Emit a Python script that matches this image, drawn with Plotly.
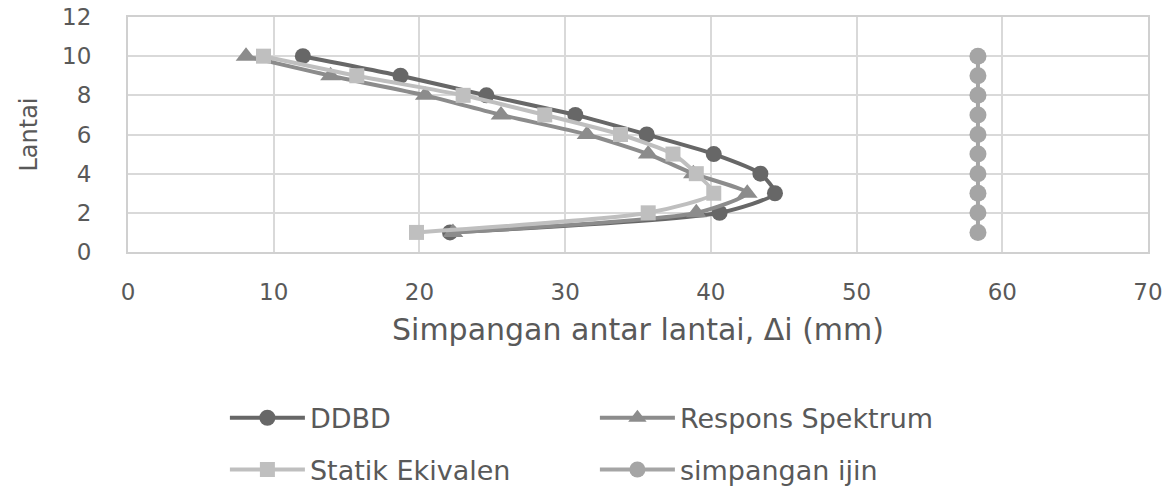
import plotly.graph_objects as go

# Story numbers (Lantai)
lantai = [1, 2, 3, 4, 5, 6, 7, 8, 9, 10]

# Inter-story drift per method, in mm
ddbd = [22.1, 40.6, 44.4, 43.4, 40.2, 35.6, 30.7, 24.6, 18.7, 12.0]
respons_spektrum = [22.3, 39.0, 42.5, 38.8, 35.7, 31.5, 25.6, 20.4, 13.9, 8.1]
statik_ekivalen = [19.8, 35.7, 40.2, 39.0, 37.4, 33.8, 28.6, 23.0, 15.7, 9.3]
simpangan_ijin = [58.33] * 10

x_ticks = [0, 10, 20, 30, 40, 50, 60, 70]
y_ticks = [0, 2, 4, 6, 8, 10, 12]

FONT = "DejaVu Sans"
TEXT = "#595959"

# name, values, colour, marker symbol, marker size, legend row
series = [
    ("DDBD", ddbd, "#676767", "circle", 16, "legend"),
    ("Respons Spektrum", respons_spektrum, "#8c8c8c", "triangle-up", 18, "legend"),
    ("Statik Ekivalen", statik_ekivalen, "#bfbfbf", "square", 15, "legend2"),
    ("simpangan ijin", simpangan_ijin, "#a5a5a5", "circle", 17, "legend2"),
]

fig = go.Figure()
for name, xs, color, symbol, size, leg in series:
    fig.add_trace(go.Scatter(
        x=xs, y=lantai, name=name, mode="lines+markers", legend=leg,
        line=dict(color=color, width=4, shape="spline", smoothing=0.6),
        marker=dict(color=color, symbol=symbol, size=size),
    ))

# two legend rows, placed in container coordinates below the plot
legend_style = dict(
    orientation="h", x=0.095, xanchor="left", yanchor="middle",
    yref="container",
    entrywidth=280, entrywidthmode="pixels", itemwidth=75,
    font=dict(family=FONT, size=27, color=TEXT),
    bgcolor="rgba(0,0,0,0)",
)

fig.update_layout(
    width=1174, height=488,
    margin=dict(l=128, r=26, t=17, b=236),
    paper_bgcolor="white", plot_bgcolor="white",
    font=dict(family=FONT, size=23, color=TEXT),
    showlegend=True,
    legend=dict(legend_style, y=0.143),
    legend2=dict(legend_style, y=0.037),
)

fig.update_xaxes(
    range=[0, 70], tickvals=x_ticks, ticktext=[str(v) for v in x_ticks],
    showgrid=True, gridcolor="#d9d9d9", gridwidth=1.5,
    showline=True, linecolor="#d0d0d0", linewidth=2, mirror=True,
    zeroline=False, ticks="", ticklabelstandoff=18, automargin=False,
    title=dict(text="Simpangan antar lantai, Δi (mm)", standoff=15,
               font=dict(family=FONT, size=30, color=TEXT)),
)
fig.update_yaxes(
    range=[0, 12], tickvals=y_ticks, ticktext=[str(v) for v in y_ticks],
    showgrid=True, gridcolor="#d9d9d9", gridwidth=1.5,
    showline=True, linecolor="#d0d0d0", linewidth=2, mirror=True,
    zeroline=False, ticks="", ticklabelstandoff=30, automargin=False,
    title=dict(text="Lantai", standoff=18,
               font=dict(family=FONT, size=24, color=TEXT)),
)

fig.write_html("out.html")
